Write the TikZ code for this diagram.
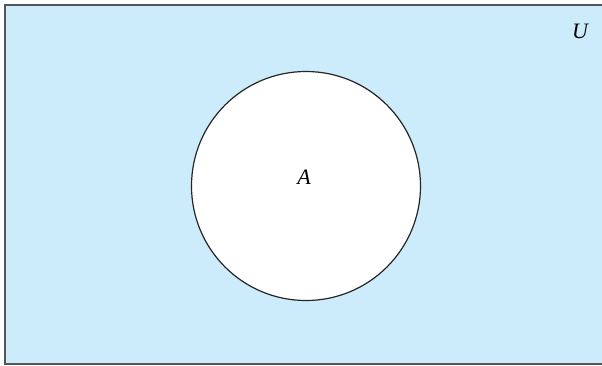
\documentclass[tikz,border=0pt]{standalone}
\usepackage{fontspec}
\setmainfont{Liberation Serif}
\definecolor{ufill}{RGB}{204,235,251}
\definecolor{uline}{RGB}{85,85,85}
\tikzset{
  universe/.style={fill=ufill, draw=uline, line width=2pt},
  setcircle/.style={circle, draw=black!85, line width=1.2pt, fill=white, minimum size=229pt, inner sep=0pt},
  lbl/.style={font=\fontsize{22}{24}\selectfont\itshape}
}
\begin{document}
\begin{tikzpicture}[x=1pt,y=-1pt]
\useasboundingbox (0,0) rectangle (602,365);
\path[universe] (5,5) rectangle (620,363.5);
\node[setcircle] (A) at (306,186) {};
\node[lbl] (Alabel) at (304,177) {A};
\node[lbl] (U) at (580,31) {U};
\end{tikzpicture}
\end{document}
